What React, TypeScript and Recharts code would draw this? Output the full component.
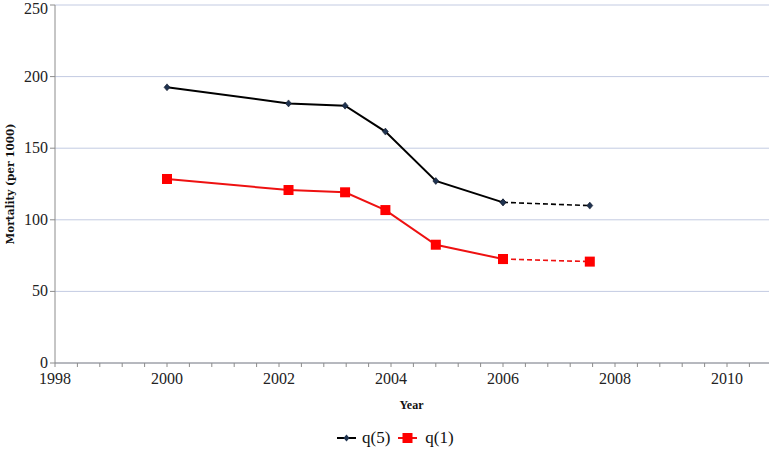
import { CartesianGrid, Line, LineChart, XAxis, YAxis } from 'recharts';

// years (decimal) and values
const years = [2000.0, 2002.17, 2003.18, 2003.9, 2004.8, 2006.0, 2007.55];
const q5 = [192.5, 181.3, 179.7, 161.6, 127.1, 112.2, 109.9];
const q1 = [128.5, 120.8, 119.2, 106.8, 82.6, 72.6, 70.8];

const yTicks = [0, 50, 100, 150, 200, 250];
const xTicks: number[] = [];
for (let i = 0; i <= 32; i++) xTicks.push(Math.round((1998 + i * 0.4) * 10) / 10);

const solidIdx = [0, 1, 2, 3, 4, 5];
const dashIdx = [5, 6];

const pts = (vals: number[], idx: number[]) => idx.map((i) => ({ year: years[i], v: vals[i] }));

const SERIF = 'Liberation Serif, DejaVu Serif, serif';

const Diamond = (props: any) => {
  const { cx, cy } = props;
  if (cx == null || cy == null) return null;
  return <polygon points={`${cx},${cy - 3.5} ${cx + 3},${cy} ${cx},${cy + 3.5} ${cx - 3},${cy}`} fill="#1f3350" stroke="#0a1020" strokeWidth={0.5} />;
};

const Square = (props: any) => {
  const { cx, cy } = props;
  if (cx == null || cy == null) return null;
  return <rect x={cx - 5} y={cy - 5} width={10} height={10} fill="#ff0000" />;
};

const fmtYear = (v: number) => (Math.abs(v - Math.round(v)) < 0.01 && Math.round(v) % 2 === 0 ? String(Math.round(v)) : '');

const XTick = (props: any) => {
  const { x, y, payload } = props;
  const s = fmtYear(payload.value);
  if (!s) return null;
  return (
    <text x={x} y={y + 15} textAnchor="middle" fill="#222" fontSize={16} fontFamily={SERIF}>
      {s}
    </text>
  );
};

const YTick = (props: any) => {
  const { x, y, payload } = props;
  return (
    <text x={x + 1} y={y + 5} textAnchor="end" fill="#222" fontSize={16} fontFamily={SERIF}>
      {payload.value}
    </text>
  );
};

export default function App() {
  return (
    <div style={{ position: 'fixed', left: 0, top: 0, width: 769, height: 449, overflow: 'hidden', background: '#fff' }}>
      <LineChart width={800} height={449} margin={{ top: 5, right: 17, bottom: 56, left: 0 }}>
        <CartesianGrid vertical={false} stroke="#c3cbe2" strokeWidth={1} />
        <XAxis
          dataKey="year"
          type="number"
          domain={[1998, 2011]}
          ticks={xTicks}
          interval={0}
          allowDuplicatedCategory={false}
          stroke="#8c8c8c"
          tickSize={4}
          tick={<XTick />}
          tickMargin={2}
          height={30}
        />
        <YAxis
          type="number"
          domain={[0, 250]}
          ticks={yTicks}
          width={55}
          stroke="#8c8c8c"
          tickSize={5}
          tickMargin={3}
          tick={<YTick />}
        />
        <Line data={pts(q5, solidIdx)} dataKey="v" stroke="#000" strokeWidth={2} dot={<Diamond />} isAnimationActive={false} />
        <Line data={pts(q5, dashIdx)} dataKey="v" stroke="#000" strokeWidth={1.6} strokeDasharray="5 3" dot={<Diamond />} isAnimationActive={false} />
        <Line data={pts(q1, solidIdx)} dataKey="v" stroke="#ee1111" strokeWidth={2} dot={<Square />} isAnimationActive={false} />
        <Line data={pts(q1, dashIdx)} dataKey="v" stroke="#ee1111" strokeWidth={1.6} strokeDasharray="5 3" dot={<Square />} isAnimationActive={false} />
      </LineChart>
      <div
        style={{
          position: 'absolute',
          left: 10,
          top: 184,
          transform: 'translate(-50%, -50%) rotate(-90deg)',
          whiteSpace: 'nowrap',
          fontFamily: 'DejaVu Serif, serif',
          fontWeight: 'bold',
          fontSize: 10.5,
          color: '#111',
        }}
      >
        Mortality (per 1000)
      </div>
      <div style={{ position: 'absolute', left: 0, width: 823, top: 398, textAlign: 'center', fontFamily: SERIF, fontWeight: 'bold', fontSize: 12, color: '#111' }}>
        Year
      </div>
      <div style={{ position: 'absolute', top: 428, left: 337, display: 'flex', alignItems: 'center', fontFamily: SERIF, fontSize: 17, lineHeight: '19px', color: '#111' }}>
        <svg width={19} height={14} style={{ marginRight: 6 }}>
          <line x1={0} y1={7} x2={19} y2={7} stroke="#000" strokeWidth={2} />
          <polygon points="9.5,3.5 12.5,7 9.5,10.5 6.5,7" fill="#1f3350" />
        </svg>
        <span style={{ marginRight: 8 }}>q(5)</span>
        <svg width={19} height={14} style={{ marginRight: 8 }}>
          <line x1={0} y1={7} x2={19} y2={7} stroke="#ee1111" strokeWidth={2} />
          <rect x={4.5} y={2} width={10} height={10} fill="#ff0000" />
        </svg>
        <span>q(1)</span>
      </div>
    </div>
  );
}
